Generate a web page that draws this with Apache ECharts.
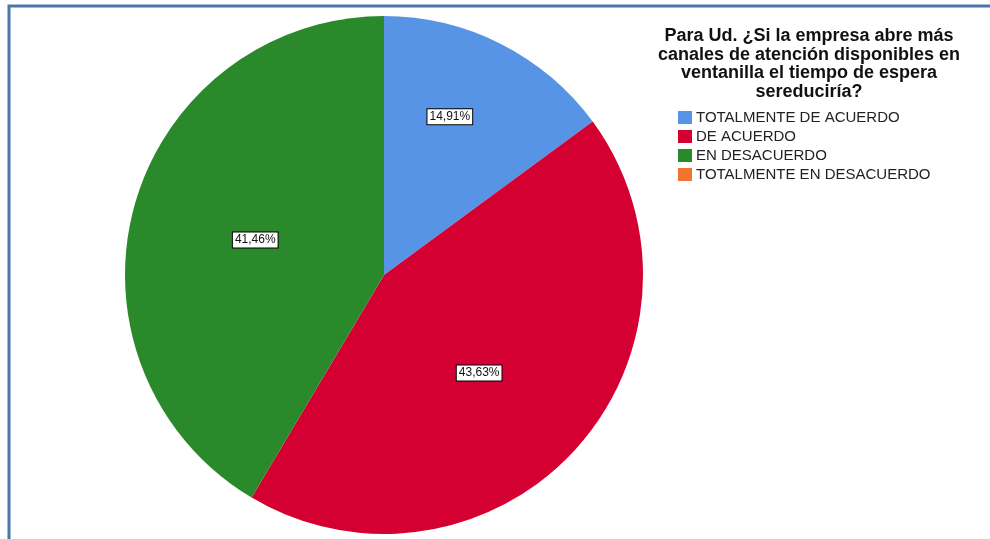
<!DOCTYPE html>
<html>
<head>
<meta charset="utf-8">
<script src="https://cdn.jsdelivr.net/npm/echarts@6/dist/echarts.min.js"></script>
<style>
html,body{margin:0;padding:0;background:#fff;}
#chart{width:990px;height:539px;}
</style>
</head>
<body>
<div id="chart"></div>
<script>
var titleText = 'Para Ud. ¿Si la empresa abre más\ncanales de atención disponibles en\nventanilla el tiempo de espera\nsereduciría?';
var categories = ['TOTALMENTE DE ACUERDO', 'DE ACUERDO', 'EN DESACUERDO', 'TOTALMENTE EN DESACUERDO'];
var values = [14.91, 43.63, 41.46, 0];
var colors = ['#5894e5', '#d50032', '#2a892b', '#f2742f'];

var labelOffsets = [[6, -40], [-3, 9], [-1, 0], [0, 0]];

var chart = echarts.init(document.getElementById('chart'), null, {renderer: 'canvas'});
var data = categories.map(function (c, i) {
  var d = {name: c, value: values[i], itemStyle: {color: colors[i]}};
  if (values[i] === 0) d.label = {show: false};
  return d;
});
chart.setOption({
  animation: false,
  backgroundColor: '#fff',
  title: {
    text: titleText,
    left: 804,
    top: 22,
    textAlign: 'center',
    textStyle: {
      fontFamily: 'Liberation Sans, Arial, sans-serif',
      fontSize: 18,
      fontWeight: 'bold',
      color: '#111',
      lineHeight: 18.5
    }
  },
  legend: {
    orient: 'vertical',
    left: 678,
    top: 110,
    padding: 0,
    itemWidth: 14,
    itemHeight: 13,
    itemGap: 4,
    icon: 'rect',
    selectedMode: false,
    data: categories,
    textStyle: {
      fontFamily: 'Liberation Sans, Arial, sans-serif',
      fontSize: 15,
      lineHeight: 15,
      color: '#222',
      padding: [0, 0, 0, -1]
    }
  },
  graphic: [{
    type: 'rect',
    shape: {x: 9, y: 6, width: 1100, height: 700},
    style: {fill: 'none', stroke: '#4a77aa', lineWidth: 3},
    silent: true
  }],
  series: [{
    type: 'pie',
    center: [384, 275],
    radius: 259,
    startAngle: 90,
    clockwise: true,
    avoidLabelOverlap: false,
    silent: true,
    label: {
      show: true,
      position: 'inside',
      formatter: function (p) { return p.value.toFixed(2).replace('.', ',') + '%'; },
      fontFamily: 'Liberation Sans, Arial, sans-serif',
      fontSize: 12,
      color: '#111',
      backgroundColor: '#fff',
      borderColor: '#000',
      borderWidth: 1,
      padding: [2, 2, 1, 2]
    },
    labelLine: {show: false},
    labelLayout: function (p) {
      var o = labelOffsets[p.dataIndex];
      return {dx: o[0], dy: o[1]};
    },
    itemStyle: {borderWidth: 0},
    data: data
  }]
});
</script>
</body>
</html>
